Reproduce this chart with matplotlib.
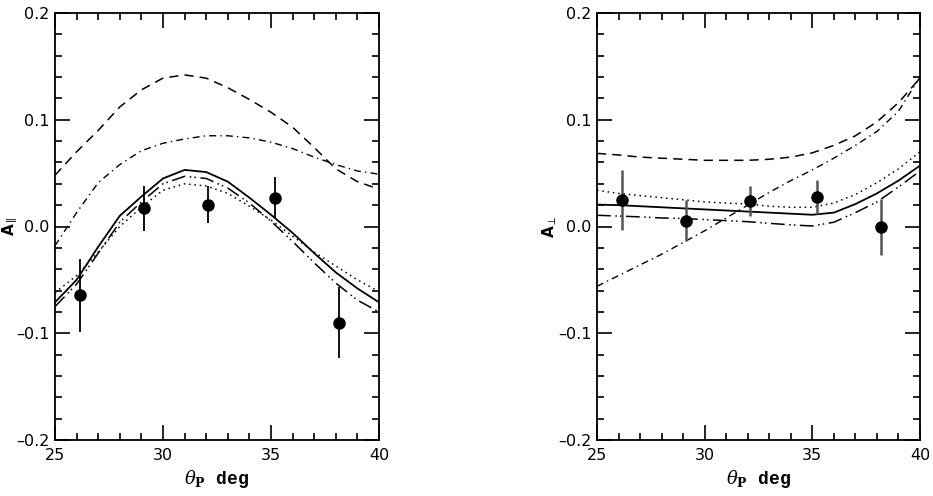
import numpy as np
import matplotlib
matplotlib.use('Agg')
import matplotlib.pyplot as plt
from matplotlib.ticker import MultipleLocator, FuncFormatter

plt.rcParams['font.family'] = ['DejaVu Sans']
plt.rcParams['mathtext.fontset'] = 'dejavuserif'

# angle grid for the model curves
theta = [25, 26, 27, 28, 29, 30, 31, 32, 33, 34, 35, 36, 37, 38, 39, 40]

# left panel: A_parallel
par_dashed = [0.048, 0.070, 0.090, 0.112, 0.128, 0.139, 0.142, 0.139, 0.130, 0.119, 0.107, 0.093, 0.074, 0.054, 0.042, 0.035]
par_dashdot = [-0.018, 0.013, 0.041, 0.058, 0.071, 0.078, 0.082, 0.085, 0.085, 0.083, 0.079, 0.073, 0.065, 0.058, 0.052, 0.049]
par_solid = [-0.071, -0.050, -0.019, 0.010, 0.028, 0.045, 0.053, 0.051, 0.042, 0.027, 0.011, -0.006, -0.025, -0.043, -0.058, -0.071]
par_dashdotdot = [-0.075, -0.054, -0.025, 0.004, 0.023, 0.040, 0.047, 0.045, 0.036, 0.022, 0.005, -0.014, -0.034, -0.053, -0.069, -0.080]
par_dotted = [-0.062, -0.046, -0.024, 0.000, 0.018, 0.034, 0.040, 0.038, 0.031, 0.019, 0.006, -0.009, -0.024, -0.037, -0.050, -0.061]

par_x = [26.15, 29.12, 32.08, 35.17, 38.15]
par_y = [-0.0645, 0.017, 0.0206, 0.027, -0.090]
par_err = [0.034, 0.021, 0.017, 0.019, 0.033]

# right panel: A_perp
perp_dashed = [0.0685, 0.067, 0.065, 0.064, 0.063, 0.062, 0.062, 0.062, 0.063, 0.065, 0.069, 0.076, 0.085, 0.098, 0.116, 0.139]
perp_dashdot = [-0.056, -0.046, -0.036, -0.026, -0.015, -0.004, 0.008, 0.020, 0.032, 0.043, 0.053, 0.064, 0.076, 0.089, 0.108, 0.140]
perp_dotted = [0.034, 0.031, 0.029, 0.027, 0.025, 0.023, 0.022, 0.021, 0.019, 0.018, 0.018, 0.022, 0.030, 0.041, 0.054, 0.070]
perp_solid = [0.0205, 0.020, 0.019, 0.018, 0.017, 0.016, 0.015, 0.014, 0.013, 0.012, 0.011, 0.013, 0.021, 0.031, 0.043, 0.057]
perp_dashdotdot = [0.0105, 0.0098, 0.009, 0.008, 0.0075, 0.0065, 0.0055, 0.0045, 0.003, 0.0015, 0.0005, 0.004, 0.013, 0.023, 0.037, 0.052]

perp_x = [26.15, 29.12, 32.1, 35.2, 38.19]
perp_y = [0.025, 0.0056, 0.024, 0.028, -0.0006]
perp_err = [0.028, 0.019, 0.014, 0.016, 0.026]

fig = plt.figure(figsize=(9.33, 4.96), dpi=100)
ax1 = fig.add_axes([55/933, 56/496, 324/933, 427/496])
ax2 = fig.add_axes([597/933, 56/496, 323/933, 427/496])

dash = (0, (6, 4))
dashdot = (0, (5, 3, 1, 3))
dashdotdot = (0, (9, 3, 1, 2, 1, 3))
dot = (0, (1, 2.5))

def yfmt(v, pos):
    return ('%.1f' % v).replace('-', '\u2013')

def style(ax, ylab, labx):
    ax.set_xlim(25, 40)
    ax.set_ylim(-0.2, 0.2)
    ax.xaxis.set_major_locator(MultipleLocator(5))
    ax.xaxis.set_minor_locator(MultipleLocator(1))
    ax.yaxis.set_major_locator(MultipleLocator(0.1))
    ax.yaxis.set_minor_locator(MultipleLocator(0.02))
    ax.tick_params(which='both', direction='in', top=True, right=True, width=1.2, labelsize=11.5)
    ax.tick_params(which='major', length=11)
    ax.tick_params(which='minor', length=5)
    ax.tick_params(axis='x', pad=6)
    ax.tick_params(axis='y', pad=4)
    ax.yaxis.set_major_formatter(FuncFormatter(yfmt))
    for s in ax.spines.values():
        s.set_linewidth(1.3)
    ax.set_xlabel(r'$\theta_{\mathbf{P}}$ deg', fontsize=13, fontweight='bold',
                  family='Liberation Mono', labelpad=3)
    ax.set_ylabel(ylab, fontsize=11, fontweight='bold')
    ax.yaxis.set_label_coords(labx, 0.5)

ax1.plot(theta, par_dashed, color='black', lw=1.1, linestyle=dash)
ax1.plot(theta, par_dashdot, color='black', lw=1.0, linestyle=dashdot)
ax1.plot(theta, par_solid, color='black', lw=1.3)
ax1.plot(theta, par_dashdotdot, color='black', lw=1.1, linestyle=dashdotdot)
ax1.plot(theta, par_dotted, color='black', lw=1.1, linestyle=dot)
ax1.errorbar(par_x, par_y, yerr=par_err, fmt='o', color='black', ms=8, elinewidth=1.3, capsize=0)
style(ax1, r'A$_{\parallel}$', -0.108)

ax2.plot(theta, perp_dashed, color='black', lw=1.1, linestyle=dash)
ax2.plot(theta, perp_dashdot, color='black', lw=1.0, linestyle=dashdot)
ax2.plot(theta, perp_dotted, color='black', lw=1.1, linestyle=dot)
ax2.plot(theta, perp_solid, color='black', lw=1.3)
ax2.plot(theta, perp_dashdotdot, color='black', lw=1.1, linestyle=dashdotdot)
ax2.errorbar(perp_x, perp_y, yerr=perp_err, fmt='o', color='black', ecolor='#555555', ms=8, elinewidth=1.8, capsize=0)
style(ax2, r'A$_{\perp}$', -0.118)

fig.savefig('out.png', dpi=100)
